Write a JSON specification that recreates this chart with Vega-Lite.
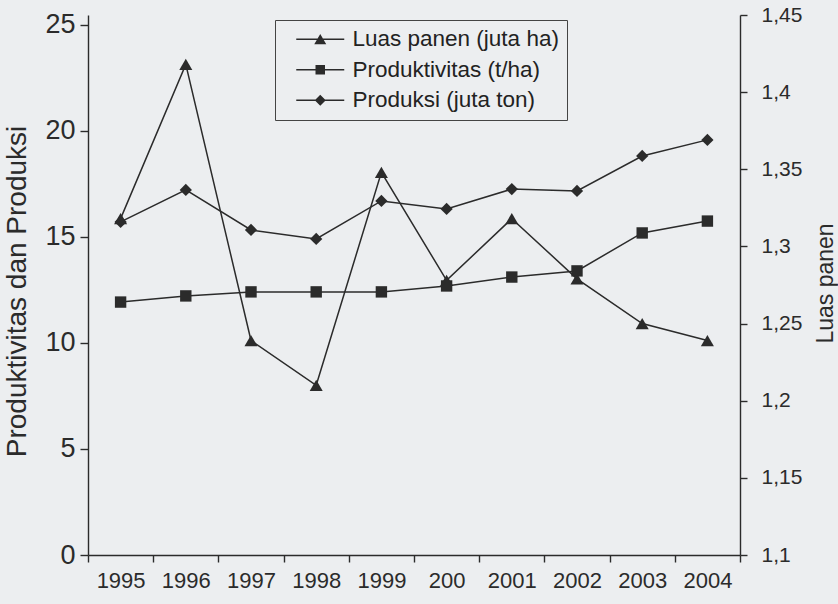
{
  "$schema": "https://vega.github.io/schema/vega-lite/v6.json",
  "width": 652,
  "height": 540,
  "autosize": {"type": "none"},
  "padding": {"left": 88, "top": 15, "right": 98, "bottom": 49},
  "background": "#eceef0",
  "config": {
    "view": {"stroke": null},
    "font": "Liberation Sans",
    "axis": {
      "grid": false,
      "domainColor": "#2b2b2b",
      "tickColor": "#2b2b2b",
      "labelColor": "#2b2b2b",
      "titleColor": "#2b2b2b",
      "labelFont": "Liberation Sans",
      "titleFont": "Liberation Sans",
      "titleFontWeight": "normal",
      "domainWidth": 1.4,
      "tickWidth": 1.4
    }
  },
  "data": {
    "values": [
      {"year": "1995", "series": "Luas panen (juta ha)", "value": 1.318},
      {"year": "1996", "series": "Luas panen (juta ha)", "value": 1.418},
      {"year": "1997", "series": "Luas panen (juta ha)", "value": 1.239},
      {"year": "1998", "series": "Luas panen (juta ha)", "value": 1.21},
      {"year": "1999", "series": "Luas panen (juta ha)", "value": 1.348},
      {"year": "2000", "series": "Luas panen (juta ha)", "value": 1.278},
      {"year": "2001", "series": "Luas panen (juta ha)", "value": 1.318},
      {"year": "2002", "series": "Luas panen (juta ha)", "value": 1.279},
      {"year": "2003", "series": "Luas panen (juta ha)", "value": 1.25},
      {"year": "2004", "series": "Luas panen (juta ha)", "value": 1.239},
      {"year": "1995", "series": "Produktivitas (t/ha)", "value": 11.93},
      {"year": "1996", "series": "Produktivitas (t/ha)", "value": 12.22},
      {"year": "1997", "series": "Produktivitas (t/ha)", "value": 12.41},
      {"year": "1998", "series": "Produktivitas (t/ha)", "value": 12.41},
      {"year": "1999", "series": "Produktivitas (t/ha)", "value": 12.41},
      {"year": "2000", "series": "Produktivitas (t/ha)", "value": 12.69},
      {"year": "2001", "series": "Produktivitas (t/ha)", "value": 13.11},
      {"year": "2002", "series": "Produktivitas (t/ha)", "value": 13.4},
      {"year": "2003", "series": "Produktivitas (t/ha)", "value": 15.19},
      {"year": "2004", "series": "Produktivitas (t/ha)", "value": 15.75},
      {"year": "1995", "series": "Produksi (juta ton)", "value": 15.71},
      {"year": "1996", "series": "Produksi (juta ton)", "value": 17.22},
      {"year": "1997", "series": "Produksi (juta ton)", "value": 15.33},
      {"year": "1998", "series": "Produksi (juta ton)", "value": 14.91},
      {"year": "1999", "series": "Produksi (juta ton)", "value": 16.7},
      {"year": "2000", "series": "Produksi (juta ton)", "value": 16.32},
      {"year": "2001", "series": "Produksi (juta ton)", "value": 17.26},
      {"year": "2002", "series": "Produksi (juta ton)", "value": 17.17},
      {"year": "2003", "series": "Produksi (juta ton)", "value": 18.82},
      {"year": "2004", "series": "Produksi (juta ton)", "value": 19.58}
    ]
  },
  "encoding": {
    "x": {
      "field": "year",
      "type": "nominal",
      "scale": {"type": "band", "paddingInner": 0, "paddingOuter": 0},
      "axis": {
        "title": null,
        "labelAngle": 0,
        "tickBand": "extent",
        "tickSize": 7,
        "labelPadding": 8,
        "labelFontSize": 22,
        "labelExpr": "datum.value == '2000' ? '200' : datum.value"
      }
    }
  },
  "layer": [
    {
      "transform": [{"filter": "datum.series !== 'Luas panen (juta ha)'"}],
      "encoding": {
        "y": {
          "field": "value",
          "type": "quantitative",
          "scale": {"domain": [0, 25.47], "nice": false, "zero": true},
          "axis": {
            "orient": "left",
            "values": [0, 5, 10, 15, 20, 25],
            "labelFontSize": 27,
            "tickSize": 8,
            "labelPadding": 5,
            "title": "Produktivitas dan Produksi",
            "titleFontSize": 28,
            "titleAngle": 270,
            "titleX": -71,
            "titleY": 276,
            "titleBaseline": "middle",
            "titleAlign": "center"
          }
        }
      },
      "layer": [
        {
          "mark": {"type": "line", "color": "#2b2b2b", "strokeWidth": 1.5},
          "encoding": {"detail": {"field": "series", "type": "nominal"}}
        },
        {
          "transform": [{"filter": "datum.series === 'Produktivitas (t/ha)'"}],
          "mark": {"type": "point", "filled": true, "color": "#2b2b2b", "shape": "square", "size": 130, "opacity": 1}
        },
        {
          "transform": [{"filter": "datum.series === 'Produksi (juta ton)'"}],
          "mark": {"type": "point", "filled": true, "color": "#2b2b2b", "shape": "diamond", "size": 150, "opacity": 1}
        },
        {
          "mark": {"type": "point", "filled": true, "color": "#2b2b2b", "size": 100, "opacity": 0},
          "encoding": {
            "shape": {
              "field": "series",
              "type": "nominal",
              "scale": {
                "domain": ["Luas panen (juta ha)", "Produktivitas (t/ha)", "Produksi (juta ton)"],
                "range": [
                  "M-4.8,-0.15H4.8V0.15H-4.8ZM0,-1.05L1.2,1H-1.2Z",
                  "M-4.8,-0.15H4.8V0.15H-4.8ZM-0.95,-0.95H0.95V0.95H-0.95Z",
                  "M-4.8,-0.15H4.8V0.15H-4.8ZM0,-1.1L1.1,0L0,1.1L-1.1,0Z"
                ]
              },
              "legend": {
                "orient": "none",
                "legendX": 187,
                "legendY": 5,
                "title": null,
                "padding": 8,
                "strokeColor": "#444444",
                "labelFont": "Liberation Sans",
                "labelFontSize": 22.5,
                "labelColor": "#222222",
                "labelLimit": 400,
                "symbolSize": 100,
                "symbolOffset": 26,
                "labelOffset": 21,
                "rowPadding": 7.5,
                "symbolOpacity": 1,
                "symbolFillColor": "#2b2b2b",
                "symbolStrokeWidth": 0
              }
            }
          }
        }
      ]
    },
    {
      "transform": [{"filter": "datum.series === 'Luas panen (juta ha)'"}],
      "encoding": {
        "y": {
          "field": "value",
          "type": "quantitative",
          "scale": {"domain": [1.1, 1.45], "nice": false, "zero": false},
          "axis": {
            "orient": "right",
            "values": [1.1, 1.15, 1.2, 1.25, 1.3, 1.35, 1.4, 1.45],
            "labelExpr": "replace(format(datum.value, '.2~f'), '.', ',')",
            "labelFontSize": 21,
            "tickSize": 7,
            "labelPadding": 14,
            "title": "Luas panen",
            "titleFontSize": 23,
            "titleAngle": 270,
            "titleX": 85,
            "titleY": 268,
            "titleBaseline": "middle",
            "titleAlign": "center"
          }
        }
      },
      "layer": [
        {
          "mark": {"type": "line", "color": "#2b2b2b", "strokeWidth": 1.5},
          "encoding": {}
        },
        {
          "mark": {"type": "point", "filled": true, "color": "#2b2b2b", "shape": "triangle-up", "size": 170, "opacity": 1}
        }
      ]
    }
  ],
  "resolve": {"scale": {"y": "independent"}}
}
